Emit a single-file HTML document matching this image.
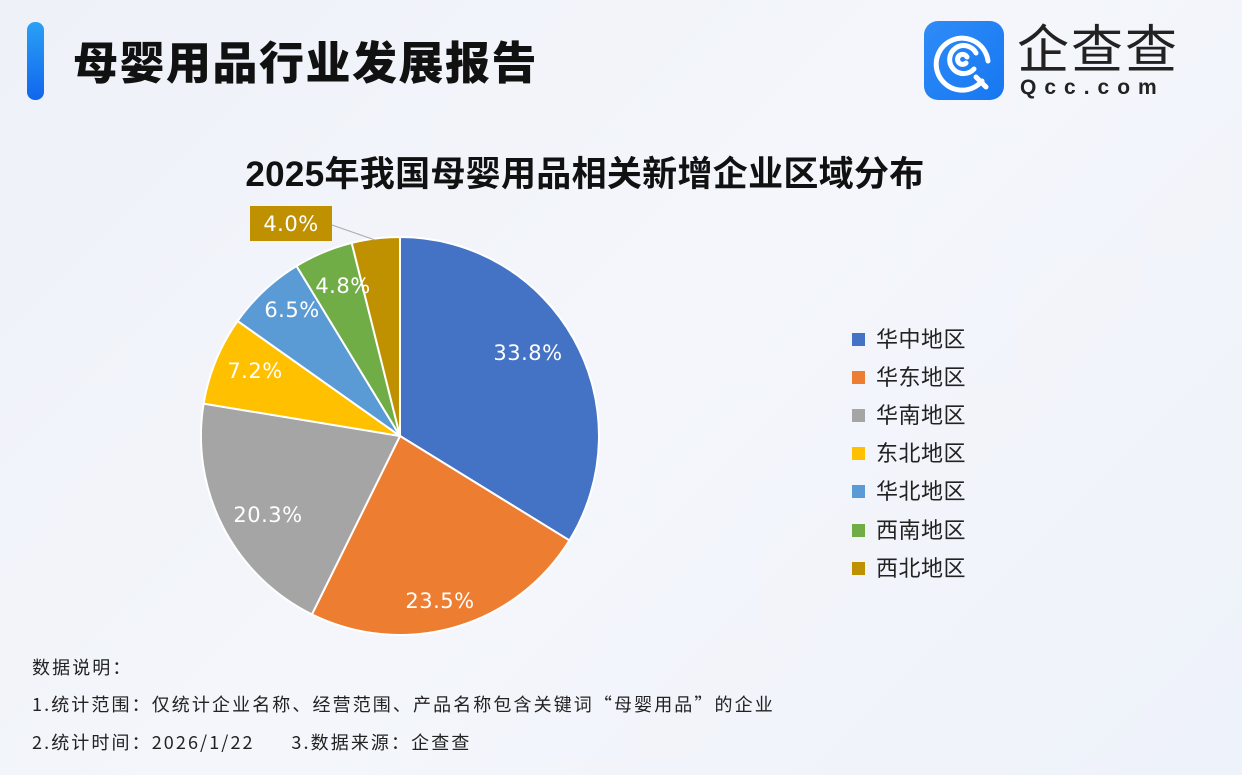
<!DOCTYPE html>
<html><head><meta charset="utf-8"><style>
body{margin:0;width:1242px;height:775px;overflow:hidden;background:linear-gradient(135deg,#eef1f8 0%,#f4f6fb 50%,#eef2fa 100%);font-family:"Liberation Sans","Noto Sans CJK SC",sans-serif;position:relative}
.a{position:absolute;white-space:nowrap}
.n{font-family:"Noto Sans CJK SC",sans-serif;font-size:18px;color:#222;letter-spacing:2.1px}
</style></head><body>
<div class="a" style="left:27px;top:22px;width:17px;height:78px;border-radius:8px;background:linear-gradient(#2aa0f5,#1166ee)"></div>
<div class="a" style="left:73px;top:27px;font-size:45px;font-weight:900;color:#111;letter-spacing:1.5px">母婴用品行业发展报告</div>
<div class="a" style="left:924px;top:21px;width:80px;height:79px;border-radius:14px;background:linear-gradient(135deg,#2f8cf8,#1677f0)"></div>
<svg class="a" style="left:924px;top:21px" width="80" height="79"><g fill="none" stroke="#fff" stroke-width="5" stroke-linecap="round"><path d="M58 60 A26 26 0 1 1 64 40"/><path d="M50 48 A14 14 0 1 1 52 32"/><path d="M42 42 A5 5 0 1 1 43 36"/><path d="M52 56 L62 66"/></g></svg>
<div class="a" style="left:1017px;top:14px;font-family:'Noto Sans CJK SC',sans-serif;font-size:52px;color:#222;letter-spacing:2px;line-height:64px">企查查</div>
<div class="a" style="left:1020px;top:76px;font-size:21px;color:#222;letter-spacing:8px;font-weight:bold">Qcc.com</div>
<div class="a" style="left:0;width:1170px;text-align:center;top:146px;font-size:35px;font-weight:bold;color:#111;letter-spacing:0.3px">2025年我国母婴用品相关新增企业区域分布</div>
<svg class="a" style="left:0;top:0" width="1242" height="775">
<g stroke="#fff" stroke-width="2">
<path d="M400 436 L400 237 A199 199 0 0 1 569.4 540.4Z" fill="#4472c4"/>
<path d="M400 436 L569.4 540.4 A199 199 0 0 1 311.9 614.4Z" fill="#ed7d31"/>
<path d="M400 436 L311.9 614.4 A199 199 0 0 1 203.6 403.6Z" fill="#a5a5a5"/>
<path d="M400 436 L203.6 403.6 A199 199 0 0 1 237.6 321Z" fill="#ffc000"/>
<path d="M400 436 L237.6 321 A199 199 0 0 1 296.5 266Z" fill="#5b9bd5"/>
<path d="M400 436 L296.5 266 A199 199 0 0 1 351.7 242.9Z" fill="#70ad47"/>
<path d="M400 436 L351.7 242.9 A199 199 0 0 1 400 237Z" fill="#bf9000"/>
</g>
<path d="M332 225 L375 240" stroke="#aaa" stroke-width="1" fill="none"/>
<rect x="250" y="206" width="82" height="35" fill="#bf9000"/>
<g font-family="DejaVu Sans, sans-serif" font-size="21" fill="#fff" text-anchor="middle" letter-spacing="0.5">
<text x="291" y="231">4.0%</text>
<text x="528" y="360">33.8%</text>
<text x="440" y="608">23.5%</text>
<text x="268" y="522">20.3%</text>
<text x="255" y="378">7.2%</text>
<text x="292" y="317">6.5%</text>
<text x="343" y="293">4.8%</text>
</g>
<g font-family="Noto Sans CJK SC, sans-serif" font-size="22" fill="#222" letter-spacing="0.5">
<rect x="852" y="333" width="13" height="13" fill="#4472c4"/><text x="876" y="347">华中地区</text>
<rect x="852" y="371" width="13" height="13" fill="#ed7d31"/><text x="876" y="385">华东地区</text>
<rect x="852" y="409" width="13" height="13" fill="#a5a5a5"/><text x="876" y="423">华南地区</text>
<rect x="852" y="447" width="13" height="13" fill="#ffc000"/><text x="876" y="461">东北地区</text>
<rect x="852" y="485" width="13" height="13" fill="#5b9bd5"/><text x="876" y="499">华北地区</text>
<rect x="852" y="524" width="13" height="13" fill="#70ad47"/><text x="876" y="538">西南地区</text>
<rect x="852" y="562" width="13" height="13" fill="#bf9000"/><text x="876" y="576">西北地区</text>
</g>
</svg>
<div class="a n" style="left:32px;top:654px">数据说明：</div>
<div class="a n" style="left:32px;top:691px">1.统计范围：仅统计企业名称、经营范围、产品名称包含关键词“母婴用品”的企业</div>
<div class="a n" style="left:32px;top:729px">2.统计时间：2026/1/22&nbsp;&nbsp;&nbsp;&nbsp;&nbsp;&nbsp;3.数据来源：企查查</div>
</body></html>
